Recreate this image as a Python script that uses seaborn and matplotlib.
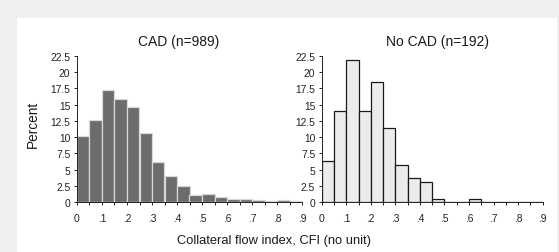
import numpy as np
import pandas as pd
import matplotlib
matplotlib.use("Agg")
import matplotlib.pyplot as plt
import seaborn as sns
from matplotlib.patches import Rectangle

sns.set_style("ticks")
plt.rcParams['font.family'] = ['Liberation Sans', 'DejaVu Sans']

# Data: bin starts (CFI), bin width 0.05, percentage per bin
bin_starts = [0.00, 0.05, 0.10, 0.15, 0.20, 0.25, 0.30, 0.35, 0.40,
              0.45, 0.50, 0.55, 0.60, 0.65, 0.70, 0.75, 0.80, 0.85]
cad_pct = [10.1, 12.7, 17.3, 15.8, 14.6, 10.6, 6.2, 4.0, 2.4,
           1.1, 1.2, 0.8, 0.5, 0.4, 0.3, 0.1, 0.3, 0.1]
nocad_pct = [6.25, 14.06, 21.88, 14.06, 18.49, 11.46, 5.73, 3.65, 3.13,
             0.52, 0.0, 0.0, 0.52, 0.0, 0.0, 0.0, 0.0, 0.0]
bin_width = 0.05
titles = ["CAD (n=989)", "No CAD (n=192)"]
x_tick_vals = [0, 0.1, 0.2, 0.3, 0.4, 0.5, 0.6, 0.7, 0.8, 0.9]
x_tick_labels = ["0", ".1", ".2", ".3", ".4", ".5", ".6", ".7", ".8", ".9"]
y_tick_vals = [0, 2.5, 5, 7.5, 10, 12.5, 15, 17.5, 20, 22.5]
y_tick_labels = ["0", "2.5", "5", "7.5", "10", "12.5", "15", "17.5", "20", "22.5"]

W, H = 559, 253
fig = plt.figure(figsize=(W / 100, H / 100), dpi=100)
fig.patch.set_facecolor("#efefef")
fig.patches.append(Rectangle((17 / W, 0), (557 - 17) / W, (253 - 19) / H,
                             transform=fig.transFigure, facecolor="white",
                             edgecolor="none", zorder=-5))

def px_axes(x0, x1, y_top, y_bot):
    return fig.add_axes([x0 / W, 1 - y_bot / H, (x1 - x0) / W, (y_bot - y_top) / H])

ax1 = px_axes(77, 302, 57, 203)
ax2 = px_axes(321.7, 542.7, 57, 203)

edges = bin_starts + [bin_starts[-1] + bin_width]
centers = [b + bin_width / 2 for b in bin_starts]
df1 = pd.DataFrame({"cfi": centers, "pct": cad_pct})
df2 = pd.DataFrame({"cfi": centers, "pct": nocad_pct})

sns.histplot(data=df1, x="cfi", weights="pct", bins=edges, ax=ax1,
             color="#6c6c6c", edgecolor="#d8d8d8", linewidth=0.9, alpha=1)
sns.histplot(data=df2, x="cfi", weights="pct", bins=edges, ax=ax2,
             color="#ececec", edgecolor="#1a1a1a", linewidth=0.9, alpha=1)

for ax in (ax1, ax2):
    ax.set_facecolor("none")
    ax.set_xlim(0, 0.9)
    ax.set_ylim(0, 22.5)
    ax.set_xticks(x_tick_vals)
    ax.set_xticklabels(x_tick_labels)
    ax.set_xticks(edges, minor=True)
    ax.set_yticks(y_tick_vals)
    ax.set_yticklabels(y_tick_labels)
    ax.tick_params(axis="both", which="both", direction="out", length=2.2,
                   width=0.7, color="#222222", labelsize=7.4, labelcolor="#222222")
    ax.tick_params(axis="x", pad=6)
    ax.tick_params(axis="y", pad=2.5)
    ax.set_xlabel("")
    ax.set_ylabel("")
    for s in ("top", "right"):
        ax.spines[s].set_visible(False)
    for s in ("left", "bottom"):
        ax.spines[s].set_linewidth(0.7)
        ax.spines[s].set_color("#222222")

fig.text(179 / W, 1 - 42 / H, titles[0], ha="center", va="center",
         fontsize=10, color="#1a1a1a")
fig.text(438 / W, 1 - 42 / H, titles[1], ha="center", va="center",
         fontsize=10, color="#1a1a1a")
fig.text(274 / W, 1 - 241 / H, "Collateral flow index, CFI (no unit)",
         ha="center", va="center", fontsize=9.3, color="#1a1a1a")
fig.text(33 / W, 1 - 124 / H, "Percent", ha="center", va="center",
         rotation=90, fontsize=9.8, color="#1a1a1a")

fig.savefig("out.png", dpi=100, facecolor=fig.get_facecolor())
